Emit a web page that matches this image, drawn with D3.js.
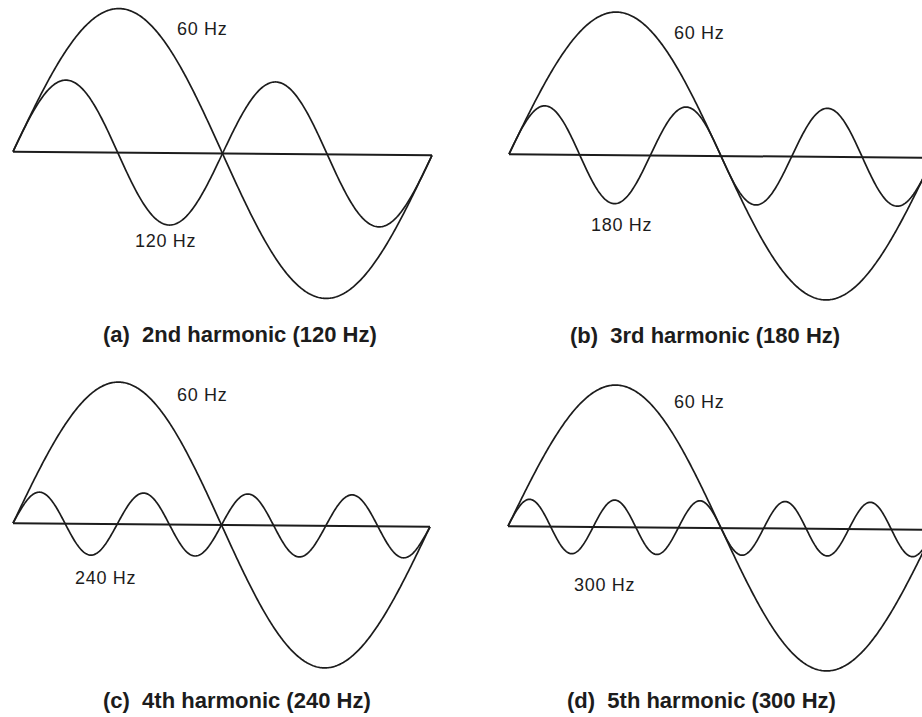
<!DOCTYPE html>
<html>
<head>
<meta charset="utf-8">
<script src="https://cdn.jsdelivr.net/npm/d3@7"></script>
<style>
  html, body { margin: 0; padding: 0; background: #fff; }
  text { font-family: "Liberation Sans", Arial, Helvetica, sans-serif; fill: #1c1c1c; }
</style>
</head>
<body>
<div id="vis"></div>
<script>
// values
const fundamentalFreq = 60;
const harmonicOrders = [2, 3, 4, 5];
const harmonicFreqs = [120, 180, 240, 300];
// harmonic amplitude relative to the 60 Hz wave
const harmonicAmps = [0.5, 0.34, 0.22, 0.19];
const panelLetters = ["a", "b", "c", "d"];
const ordinals = ["2nd", "3rd", "4th", "5th"];

// where each panel sits on the page
const layout = [
    {x0: 13,  period: 419, axisY: 153.5, amp: 144, fund: [177, 35],  harm: [135, 247], title: [103, 342]},
    {x0: 509, period: 424, axisY: 156,   amp: 143, fund: [674, 39],  harm: [591, 231], title: [570, 343]},
    {x0: 13,  period: 417, axisY: 525,   amp: 142, fund: [177, 401], harm: [75, 584],  title: [103, 708]},
    {x0: 508, period: 426, axisY: 528,   amp: 142, fund: [674, 408], harm: [574, 591], title: [567, 708]}
];

let width = 922;
let height = 717;

var svg = d3.select("#vis")
    .append("svg")
    .attr("width", width)
    .attr("height", height);

// one cycle of the fundamental, sampled finely
var samples = d3.range(0, 401).map(function (i) { return i / 400; });

harmonicOrders.forEach(function (n, i) {
    var L = layout[i];

    var x = d3.scaleLinear()
        .domain([0, 1])
        .range([L.x0, L.x0 + L.period]);

    var y = d3.scaleLinear()
        .domain([-1, 1])
        .range([L.axisY + L.amp, L.axisY - L.amp]);

    // the scan is a little crooked
    var g = svg.append("g")
        .attr("transform", "rotate(0.5," + (L.x0 + L.period / 2) + "," + L.axisY + ")");

    // zero axis
    g.append("line")
        .attr("x1", x(0))
        .attr("x2", x(1))
        .attr("y1", y(0))
        .attr("y2", y(0))
        .attr("stroke", "#1c1c1c")
        .attr("stroke-width", 2);

    var fundLine = d3.line()
        .x(function (t) { return x(t); })
        .y(function (t) { return y(Math.sin(2 * Math.PI * t)); });

    var harmLine = d3.line()
        .x(function (t) { return x(t); })
        .y(function (t) { return y(harmonicAmps[i] * Math.sin(2 * Math.PI * n * t)); });

    g.append("path")
        .attr("d", fundLine(samples))
        .attr("fill", "none")
        .attr("stroke", "#1c1c1c")
        .attr("stroke-width", 1.7);

    g.append("path")
        .attr("d", harmLine(samples))
        .attr("fill", "none")
        .attr("stroke", "#1c1c1c")
        .attr("stroke-width", 1.7);

    svg.append("text")
        .attr("x", L.fund[0])
        .attr("y", L.fund[1])
        .style("font-size", "18px")
        .style("letter-spacing", "0.7px")
        .text(fundamentalFreq + " Hz");

    svg.append("text")
        .attr("x", L.harm[0])
        .attr("y", L.harm[1])
        .style("font-size", "18px")
        .style("letter-spacing", "0.7px")
        .text(harmonicFreqs[i] + " Hz");

    svg.append("text")
        .attr("x", L.title[0])
        .attr("y", L.title[1])
        .style("font-size", "22px")
        .style("font-weight", "bold")
        .style("white-space", "pre")
        .text("(" + panelLetters[i] + ")  " + ordinals[i] + " harmonic (" + harmonicFreqs[i] + " Hz)");
});
</script>
</body>
</html>
